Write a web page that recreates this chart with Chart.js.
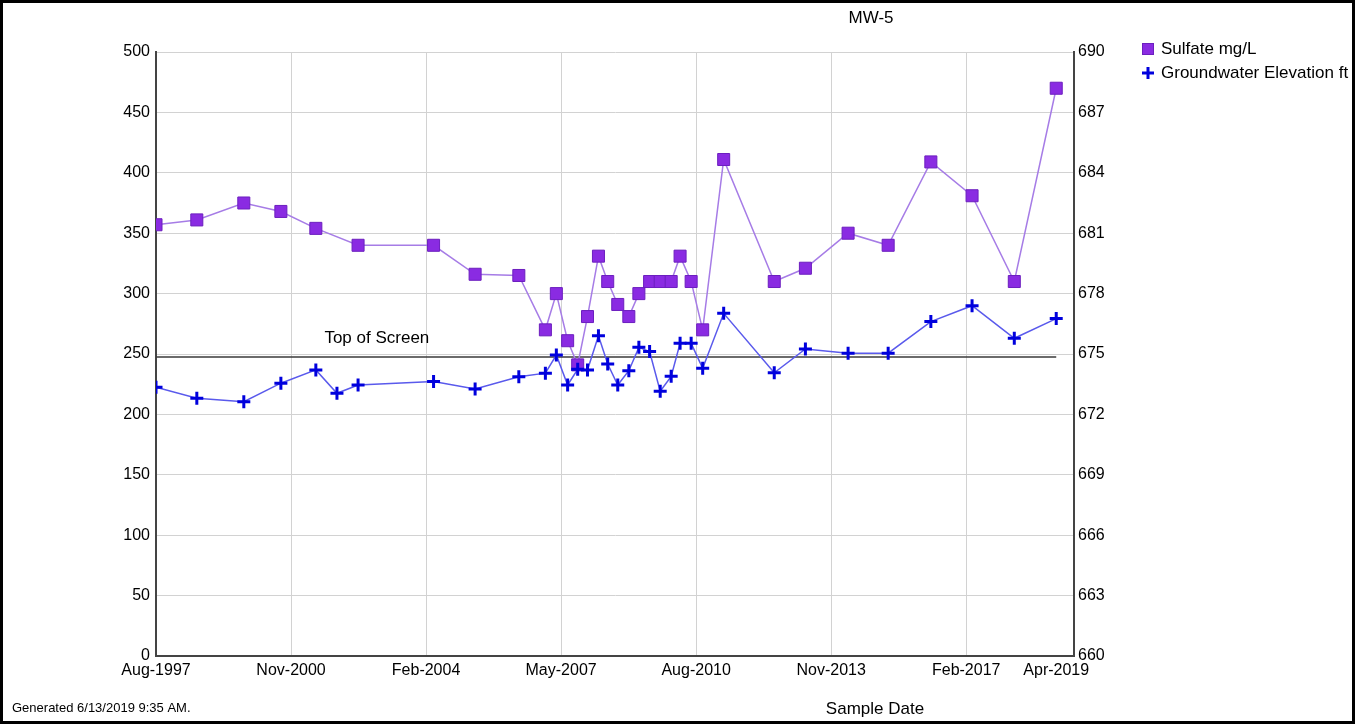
<!DOCTYPE html>
<html>
<head>
<meta charset="utf-8">
<script src="https://cdn.jsdelivr.net/npm/chart.js@4.4.1/dist/chart.umd.min.js"></script>
<style>
  html, body { margin: 0; padding: 0; background: #fff; }
  #wrap { width: 1356px; height: 725px; }
</style>
</head>
<body>
<div id="wrap"><canvas id="c" width="1356" height="725"></canvas></div>
<script>
// Well MW-5: sulfate concentration and groundwater elevation by sample date
const chartTitle = 'MW-5';
const generatedNote = 'Generated 6/13/2019 9:35 AM.';
const xAxisTitle = 'Sample Date';

const sampleDates = [
  '1997-08-01', '1998-07-25', '1999-09-12', '2000-08-03', '2001-06-06',
  '2001-12-09', '2002-06-12', '2004-04-06', '2005-04-06', '2006-04-25',
  '2006-12-15', '2007-03-20', '2007-06-28', '2007-09-25', '2007-12-20',
  '2008-03-25', '2008-06-15', '2008-09-12', '2008-12-18', '2009-03-15',
  '2009-06-18', '2009-09-20', '2009-12-25', '2010-03-12', '2010-06-18',
  '2010-09-28', '2011-03-30', '2012-06-18', '2013-03-18', '2014-03-28',
  '2015-03-15', '2016-03-25', '2017-03-22', '2018-03-28', '2019-04-01'
];

// Sulfate, mg/L (no sulfate result for the Dec-2001 event)
const sulfate = [
  357, 361, 375, 368, 354,
  null, 340, 340, 316, 315,
  270, 300, 261, 241, 281,
  331, 310, 291, 281, 300,
  310, 310, 310, 331, 310,
  270, 411, 310, 321, 350,
  340, 409, 381, 310, 470
];

// Groundwater elevation, ft
const gwElevation = [
  673.35, 672.80, 672.63, 673.55, 674.21,
  673.05, 673.46, 673.63, 673.26, 673.87,
  674.05, 674.95, 673.46, 674.24, 674.21,
  675.91, 674.50, 673.46, 674.17, 675.33,
  675.12, 673.15, 673.89, 675.53, 675.53,
  674.29, 677.02, 674.07, 675.25, 675.04,
  675.04, 676.61, 677.40, 675.78, 676.76
];

const topOfScreen = 674.85;
const topOfScreenLabel = 'Top of Screen';
const topOfScreenLabelDate = '2002-11-25';

const xTickDates = ['1997-08-01', '2000-11-01', '2004-02-01', '2007-05-01', '2010-08-01', '2013-11-01', '2017-02-01', '2019-04-01'];
const xTickLabels = ['Aug-1997', 'Nov-2000', 'Feb-2004', 'May-2007', 'Aug-2010', 'Nov-2013', 'Feb-2017', 'Apr-2019'];
const xAxisEndDate = '2019-09-05';

const sulfateAxis = { min: 0, max: 500, step: 50 };
const elevationAxis = { min: 660, max: 690, step: 3 };

const seriesNames = ['Sulfate mg/L', 'Groundwater Elevation ft'];

// months elapsed since the first sample month (Aug 1997)
function monthIndex(dateStr) {
  const [y, m, d] = dateStr.split('-').map(Number);
  return (y - 1997) * 12 + (m - 8) + ((d || 1) - 1) / 30.44;
}

const FONT = '"Liberation Sans", Arial, sans-serif';
const SULFATE_LINE = '#a67ce6';
const SULFATE_FILL = '#8a2be2';
const SULFATE_EDGE = '#6c1fbf';
const GW_LINE = '#5a5aec';
const GW_MARK = '#0000dd';

const xTickValues = xTickDates.map(monthIndex);
const xTickLabelMap = new Map(xTickValues.map((v, i) => [Math.round(v), xTickLabels[i]]));

const sulfatePoints = sampleDates.map((d, i) => ({ x: monthIndex(d), y: sulfate[i] }));
const gwPoints = sampleDates.map((d, i) => ({ x: monthIndex(d), y: gwElevation[i] }));
const screenPoints = [
  { x: monthIndex(sampleDates[0]), y: topOfScreen },
  { x: monthIndex(sampleDates[sampleDates.length - 1]), y: topOfScreen }
];

const annotations = {
  id: 'annotations',
  afterDraw(chart) {
    const ctx = chart.ctx;
    const xs = chart.scales.x;
    const y2 = chart.scales.y2;
    ctx.save();
    ctx.fillStyle = '#000';
    ctx.textBaseline = 'middle';

    // title
    ctx.font = '17px ' + FONT;
    ctx.textAlign = 'center';
    ctx.fillText(chartTitle, 871, 18);

    // top of screen label
    ctx.fillText(topOfScreenLabel, xs.getPixelForValue(monthIndex(topOfScreenLabelDate)), y2.getPixelForValue(topOfScreen) - 19);

    // x axis title
    ctx.fillText(xAxisTitle, 875, 709);

    // footer
    ctx.font = '13px ' + FONT;
    ctx.textAlign = 'left';
    ctx.fillText(generatedNote, 12, 708);

    // legend
    ctx.font = '17px ' + FONT;
    ctx.fillStyle = SULFATE_FILL;
    ctx.strokeStyle = SULFATE_EDGE;
    ctx.lineWidth = 1;
    ctx.fillRect(1142.5, 43.5, 11, 11);
    ctx.strokeRect(1142.5, 43.5, 11, 11);
    ctx.strokeStyle = GW_MARK;
    ctx.lineWidth = 3;
    ctx.beginPath();
    ctx.moveTo(1148, 67); ctx.lineTo(1148, 79);
    ctx.moveTo(1142, 73); ctx.lineTo(1154, 73);
    ctx.stroke();
    ctx.fillStyle = '#000';
    ctx.fillText(seriesNames[0], 1161, 49);
    ctx.fillText(seriesNames[1], 1161, 73);

    // outer frame
    ctx.strokeStyle = '#000';
    ctx.lineWidth = 3;
    ctx.strokeRect(1.5, 1.5, 1352, 721);
    ctx.restore();
  }
};

new Chart(document.getElementById('c'), {
  type: 'line',
  data: {
    datasets: [
      {
        label: seriesNames[1],
        data: gwPoints,
        yAxisID: 'y2',
        order: 0,
        borderColor: GW_LINE,
        borderWidth: 1.5,
        pointStyle: 'cross',
        pointRadius: 6.5,
        pointBorderColor: GW_MARK,
        pointBorderWidth: 3,
        tension: 0
      },
      {
        label: seriesNames[0],
        data: sulfatePoints,
        yAxisID: 'y',
        order: 1,
        spanGaps: true,
        borderColor: SULFATE_LINE,
        borderWidth: 1.5,
        pointStyle: 'rect',
        pointRadius: 8.5,
        pointBackgroundColor: SULFATE_FILL,
        pointBorderColor: SULFATE_EDGE,
        pointBorderWidth: 1,
        tension: 0
      },
      {
        label: topOfScreenLabel,
        data: screenPoints,
        yAxisID: 'y2',
        order: 2,
        borderColor: '#3a3a3a',
        borderWidth: 1.6,
        pointRadius: 0
      }
    ]
  },
  options: {
    responsive: false,
    animation: false,
    events: [],
    layout: { padding: { top: 52, left: 0, right: 0, bottom: 0 } },
    plugins: {
      legend: { display: false },
      title: { display: false },
      tooltip: { enabled: false }
    },
    scales: {
      x: {
        type: 'linear',
        min: 0,
        max: monthIndex(xAxisEndDate),
        afterBuildTicks(scale) { scale.ticks = xTickValues.map(v => ({ value: v })); },
        afterFit(scale) { scale.height = 69; },
        ticks: {
          autoSkip: false,
          maxRotation: 0,
          padding: 5,
          color: '#000',
          font: { family: FONT, size: 16 },
          callback: (v) => xTickLabelMap.get(Math.round(v)) || ''
        },
        grid: {
          drawTicks: false,
          color: (c) => (c.index === 0 || c.index === xTickValues.length - 1) ? 'rgba(0,0,0,0)' : '#d2d2d2',
          lineWidth: 1
        },
        border: { color: '#444', width: 2 }
      },
      y: {
        position: 'left',
        min: sulfateAxis.min,
        max: sulfateAxis.max,
        afterFit(scale) { scale.width = 156; },
        ticks: {
          stepSize: sulfateAxis.step,
          padding: 6,
          color: '#000',
          font: { family: FONT, size: 16 }
        },
        grid: { drawTicks: false, color: '#d2d2d2', lineWidth: 1 },
        border: { color: '#444', width: 2 }
      },
      y2: {
        position: 'right',
        min: elevationAxis.min,
        max: elevationAxis.max,
        afterFit(scale) { scale.width = 282; },
        ticks: {
          stepSize: elevationAxis.step,
          padding: 4,
          color: '#000',
          font: { family: FONT, size: 16 }
        },
        grid: { drawOnChartArea: false, drawTicks: false },
        border: { color: '#444', width: 2 }
      }
    }
  },
  plugins: [annotations]
});
</script>
</body>
</html>
